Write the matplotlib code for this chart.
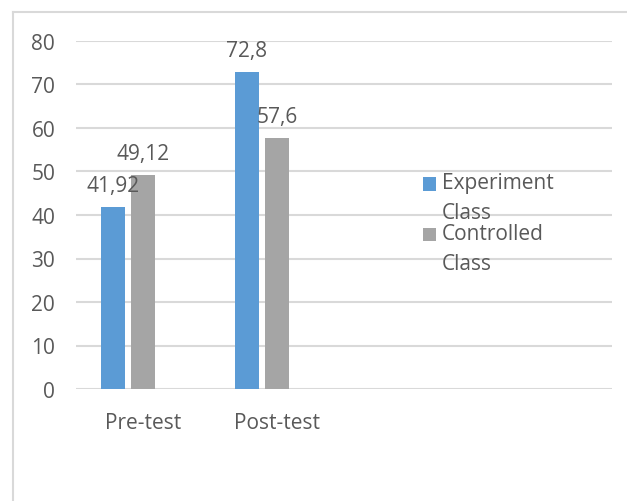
import matplotlib.pyplot as plt
from matplotlib.lines import Line2D
from matplotlib.patches import Rectangle
from matplotlib.container import BarContainer
from matplotlib.legend_handler import HandlerPatch, update_from_first_child

# data
categories = ['Pre-test', 'Post-test', '', '']
experiment = [41.92, 72.8]
controlled = [49.12, 57.6]
series_names = ['Experiment\nClass', 'Controlled\nClass']

blue = '#5B9BD5'
grey = '#A5A5A5'
txt = '#595959'
line_col = '#D9D9D9'
fs = 15

plt.rcParams['font.family'] = ['Open Sans', 'DejaVu Sans']
plt.rcParams['font.size'] = fs

fig = plt.figure(figsize=(6.27, 5.02), dpi=100)
ax = fig.add_axes([76/627, 112/502, 536/627, 348/502])

w = 0.18
x = range(len(experiment))
b1 = ax.bar([i - 0.224 for i in x], experiment, width=w, color=blue, label=series_names[0], zorder=3)
b2 = ax.bar(list(x), controlled, width=w, color=grey, label=series_names[1], zorder=3)

fmt = lambda v: f'{v:g}'.replace('.', ',')
for bars, vals in ((b1, experiment), (b2, controlled)):
    ax.bar_label(bars, labels=[fmt(v) for v in vals], padding=8, color=txt, fontsize=fs, clip_on=False)

ax.set_xlim(-0.5, 3.5)
ax.set_ylim(0, 80)
ax.set_yticks(range(0, 81, 10))
ax.set_xticks(range(len(categories)))
ax.set_xticklabels(categories)
ax.yaxis.grid(True, color=line_col, linewidth=1.5, zorder=0)
ax.set_axisbelow(True)
for s in ax.spines.values():
    s.set_visible(False)
ax.tick_params(axis='both', length=0, colors=txt, labelsize=fs)
ax.tick_params(axis='y', pad=15)
ax.tick_params(axis='x', pad=16.5)


# legend marker sits beside the first line of the wrapped label
def top_square(legend, orig_handle, xdescent, ydescent, width, height, fontsize):
    return Rectangle((-xdescent, -ydescent + 0.68 * fontsize), width, height)


leg = ax.legend(loc='upper left', bbox_to_anchor=(423/627, 1 - 173/502), bbox_transform=fig.transFigure,
                frameon=False, handlelength=0.62, handleheight=0.62, handletextpad=0.3,
                borderpad=0, borderaxespad=0, labelspacing=0.0, labelcolor=txt, fontsize=fs,
                handler_map={BarContainer: HandlerPatch(patch_func=top_square,
                                                        update_func=update_from_first_child)})
for t in leg.get_texts():
    t.set_linespacing(1.55)

# outer chart border (only top and left edges visible)
fig.add_artist(Line2D([13/627, 13/627], [0, 1 - 13/502], transform=fig.transFigure, color=line_col, lw=1.5))
fig.add_artist(Line2D([13/627, 1], [1 - 13/502, 1 - 13/502], transform=fig.transFigure, color=line_col, lw=1.5))

fig.savefig('out.png', dpi=100)
